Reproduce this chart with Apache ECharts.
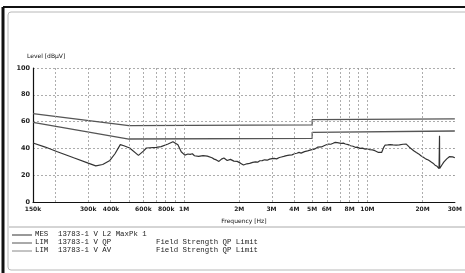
<!DOCTYPE html>
<html>
<head>
<meta charset="utf-8">
<script src="https://cdn.jsdelivr.net/npm/echarts@6/dist/echarts.min.js"></script>
<style>
  html, body { margin: 0; padding: 0; background: #fff; }
  #chart { width: 465px; height: 273px; }
</style>
</head>
<body>
<div id="chart"></div>
<script>
// frequencies in MHz, levels in dBuV
var tickFreqs = [0.15, 0.3, 0.4, 0.6, 0.8, 1, 2, 3, 4, 5, 6, 8, 10, 20, 30]
var tickLabels = ['150k', '300k', '400k', '600k', '800k', '1M', '2M', '3M', '4M', '5M', '6M', '8M', '10M', '20M', '30M']
var gridFreqs = [0.2, 0.3, 0.4, 0.5, 0.6, 0.7, 0.8, 0.9, 1, 2, 3, 4, 5, 6, 7, 8, 9, 10, 20, 30]

var qpLimit = [[0.15, 66], [0.5, 57], [5, 57.5], [5, 61.5], [30, 62]]
var avLimit = [[0.15, 59.5], [0.5, 47], [5, 47.5], [5, 52], [30, 53]]

var measured = [
  [0.150, 44], [0.175, 41], [0.202, 37.7], [0.25, 33], [0.30, 29], [0.33, 27], [0.36, 28],
  [0.394, 31], [0.42, 36], [0.449, 42.8], [0.47, 42], [0.505, 40.3], [0.564, 34.8], [0.6, 38],
  [0.623, 40.3], [0.705, 40.8], [0.75, 41.3], [0.818, 43.3], [0.87, 45], [0.926, 42.8],
  [0.965, 37.5], [1.01, 35], [1.05, 35.8], [1.08, 35.5], [1.11, 36], [1.14, 34.5], [1.2, 34],
  [1.23, 33.2], [1.27, 34.6], [1.3, 35.5], [1.34, 34.2], [1.37, 35], [1.42, 33], [1.46, 32],
  [1.5, 31.4], [1.55, 30.3], [1.6, 32], [1.65, 32.8], [1.69, 31.6], [1.72, 31], [1.76, 32.2],
  [1.79, 31.8], [1.83, 30.9], [1.87, 30.5], [1.91, 31.1], [1.95, 30.3], [2.03, 29], [2.07, 28.3],
  [2.11, 27.6], [2.16, 28.2], [2.2, 28.5], [2.24, 28.1], [2.28, 28.8], [2.37, 29.6], [2.45, 30],
  [2.52, 29.7], [2.59, 30.8], [2.67, 30.9], [2.75, 31.5], [2.84, 31.2], [2.93, 32], [3.02, 32.4],
  [3.1, 32.5], [3.2, 32.2], [3.31, 33.2], [3.4, 33.6], [3.5, 34], [3.62, 34.6], [3.75, 35],
  [3.88, 35.2], [4.0, 36], [4.12, 36.4], [4.24, 37], [4.35, 36.5], [4.45, 36.8], [4.54, 37.6],
  [4.62, 37.5], [4.72, 38.2], [4.8, 38.5], [4.92, 38.9], [5.03, 39.5], [5.14, 39.4], [5.25, 40],
  [5.35, 40.9], [5.46, 41.3], [5.62, 41.1], [5.8, 42], [5.97, 42.7], [6.15, 43.3], [6.32, 43.1],
  [6.5, 43.8], [6.68, 44.5], [6.85, 44.3], [7.02, 44.6], [7.2, 43.8], [7.4, 43.9], [7.59, 43.3],
  [7.85, 42.8], [8.1, 42], [8.35, 41.6], [8.59, 40.8], [8.85, 40.9], [9.1, 40], [9.4, 40.2],
  [9.73, 39.5], [10.0, 39.7], [10.3, 39], [10.65, 38.9], [11.0, 38.3], [11.25, 37.6], [11.5, 37],
  [11.75, 37.4], [11.96, 37], [12.3, 41], [12.5, 42.5], [12.7, 43.8], [12.9, 42.6], [13.1, 42],
  [13.3, 42.8], [13.5, 42], [13.8, 42.6], [14.1, 42], [14.35, 42.4], [14.6, 43], [14.95, 42.6],
  [15.3, 43.3], [15.65, 43.1], [16.0, 43.8], [16.3, 43.2], [16.6, 42], [16.95, 40.9], [17.3, 39.5],
  [17.9, 38.3], [18.5, 37], [19.05, 35.9], [19.6, 34.5], [20.2, 33.4], [20.9, 32], [21.5, 31.3],
  [22.2, 30], [22.8, 29], [23.4, 27.5], [24.0, 26.6], [24.6, 25], [24.75, 49.5], [24.8, 25],
  [25.2, 26.2], [25.6, 28], [26.1, 29.8], [26.7, 31], [27.1, 32.2], [27.6, 33], [28.0, 33.8],
  [28.5, 34.5], [29.2, 33.7], [30, 33]
]

var legendRows = [
  ['MES', '13783-1 V L2 MaxPk 1', ''],
  ['LIM', '13783-1 V QP', 'Field Strength QP Limit'],
  ['LIM', '13783-1 V AV', 'Field Strength QP Limit']
]

function toLog(pts) {
  return pts.map(function (p) { return [Math.log10(p[0]), p[1]] })
}

var chart = echarts.init(document.getElementById('chart'))

var graphics = [
  { type: 'rect', shape: { x: 8, y: 12, width: 470, height: 258, r: 3 }, style: { fill: 'none', stroke: '#b8b8b8', lineWidth: 1 } },
  { type: 'line', shape: { x1: 3, y1: 7, x2: 465, y2: 7 }, style: { stroke: '#111', lineWidth: 2 } },
  { type: 'line', shape: { x1: 3, y1: 7, x2: 3, y2: 273 }, style: { stroke: '#111', lineWidth: 3 } },
  { type: 'line', shape: { x1: 9, y1: 227, x2: 465, y2: 227 }, style: { stroke: '#aaa', lineWidth: 1 } },
  { type: 'text', left: 27, top: 53, style: { text: 'Level [dBµV]', font: '6px "DejaVu Sans"', fill: '#111' } }
]
var legendColors = ['#333', '#555', '#888']
legendRows.forEach(function (row, i) {
  var y = 235 + i * 8
  graphics.push({ type: 'line', shape: { x1: 12, y1: y, x2: 32, y2: y }, style: { stroke: legendColors[i], lineWidth: 1 } })
  graphics.push({ type: 'text', x: 35, y: y - 4, style: { text: row[0], font: '7.4px "Liberation Mono"', fill: '#222' } })
  graphics.push({ type: 'text', x: 58, y: y - 4, style: { text: row[1], font: '7.4px "Liberation Mono"', fill: '#222' } })
  if (row[2]) {
    graphics.push({ type: 'text', x: 156, y: y - 4, style: { text: row[2], font: '7.4px "Liberation Mono"', fill: '#222' } })
  }
})

chart.setOption({
  animation: false,
  backgroundColor: '#fff',
  grid: { left: 33, right: 4, top: 68, bottom: 71 },
  graphic: graphics,
  xAxis: {
    type: 'value',
    min: Math.log10(0.15),
    max: Math.log10(30),
    name: 'Frequency [Hz]',
    nameLocation: 'middle',
    nameGap: 16,
    nameTextStyle: { fontSize: 6, color: '#111', fontFamily: 'DejaVu Sans' },
    axisLine: { onZero: false, lineStyle: { color: '#111', width: 1.2 } },
    axisTick: { show: false },
    splitLine: { show: false },
    axisLabel: {
      customValues: tickFreqs.map(function (f) { return Math.log10(f) }),
      fontSize: 6,
      fontWeight: 'bold',
      color: '#222',
      fontFamily: 'DejaVu Sans',
      margin: 4,
      formatter: function (v) {
        for (var i = 0; i < tickFreqs.length; i++) {
          if (Math.abs(Math.log10(tickFreqs[i]) - v) < 1e-6) return tickLabels[i]
        }
        return ''
      }
    }
  },
  yAxis: {
    type: 'value',
    min: 0,
    max: 100,
    interval: 20,
    axisLine: { show: true, onZero: false, lineStyle: { color: '#111', width: 1.2 } },
    axisTick: { show: false },
    axisLabel: { fontSize: 6.5, fontWeight: 'bold', color: '#222', fontFamily: 'DejaVu Sans', margin: 3 },
    splitLine: { lineStyle: { color: '#999', type: [2, 2], width: 0.8 } }
  },
  series: [
    {
      name: 'grid',
      type: 'line',
      data: [],
      silent: true,
      markLine: {
        silent: true,
        symbol: 'none',
        label: { show: false },
        lineStyle: { color: '#999', type: [2, 2], width: 0.8 },
        data: gridFreqs.map(function (f) { return { xAxis: Math.log10(f) } })
      }
    },
    {
      name: 'QP',
      type: 'line',
      data: toLog(qpLimit),
      showSymbol: false,
      lineStyle: { color: '#555', width: 1.3 }
    },
    {
      name: 'AV',
      type: 'line',
      data: toLog(avLimit),
      showSymbol: false,
      lineStyle: { color: '#555', width: 1.3 }
    },
    {
      name: 'MES',
      type: 'line',
      data: toLog(measured),
      showSymbol: false,
      lineStyle: { color: '#333', width: 1.2 }
    }
  ]
})
</script>
</body>
</html>
